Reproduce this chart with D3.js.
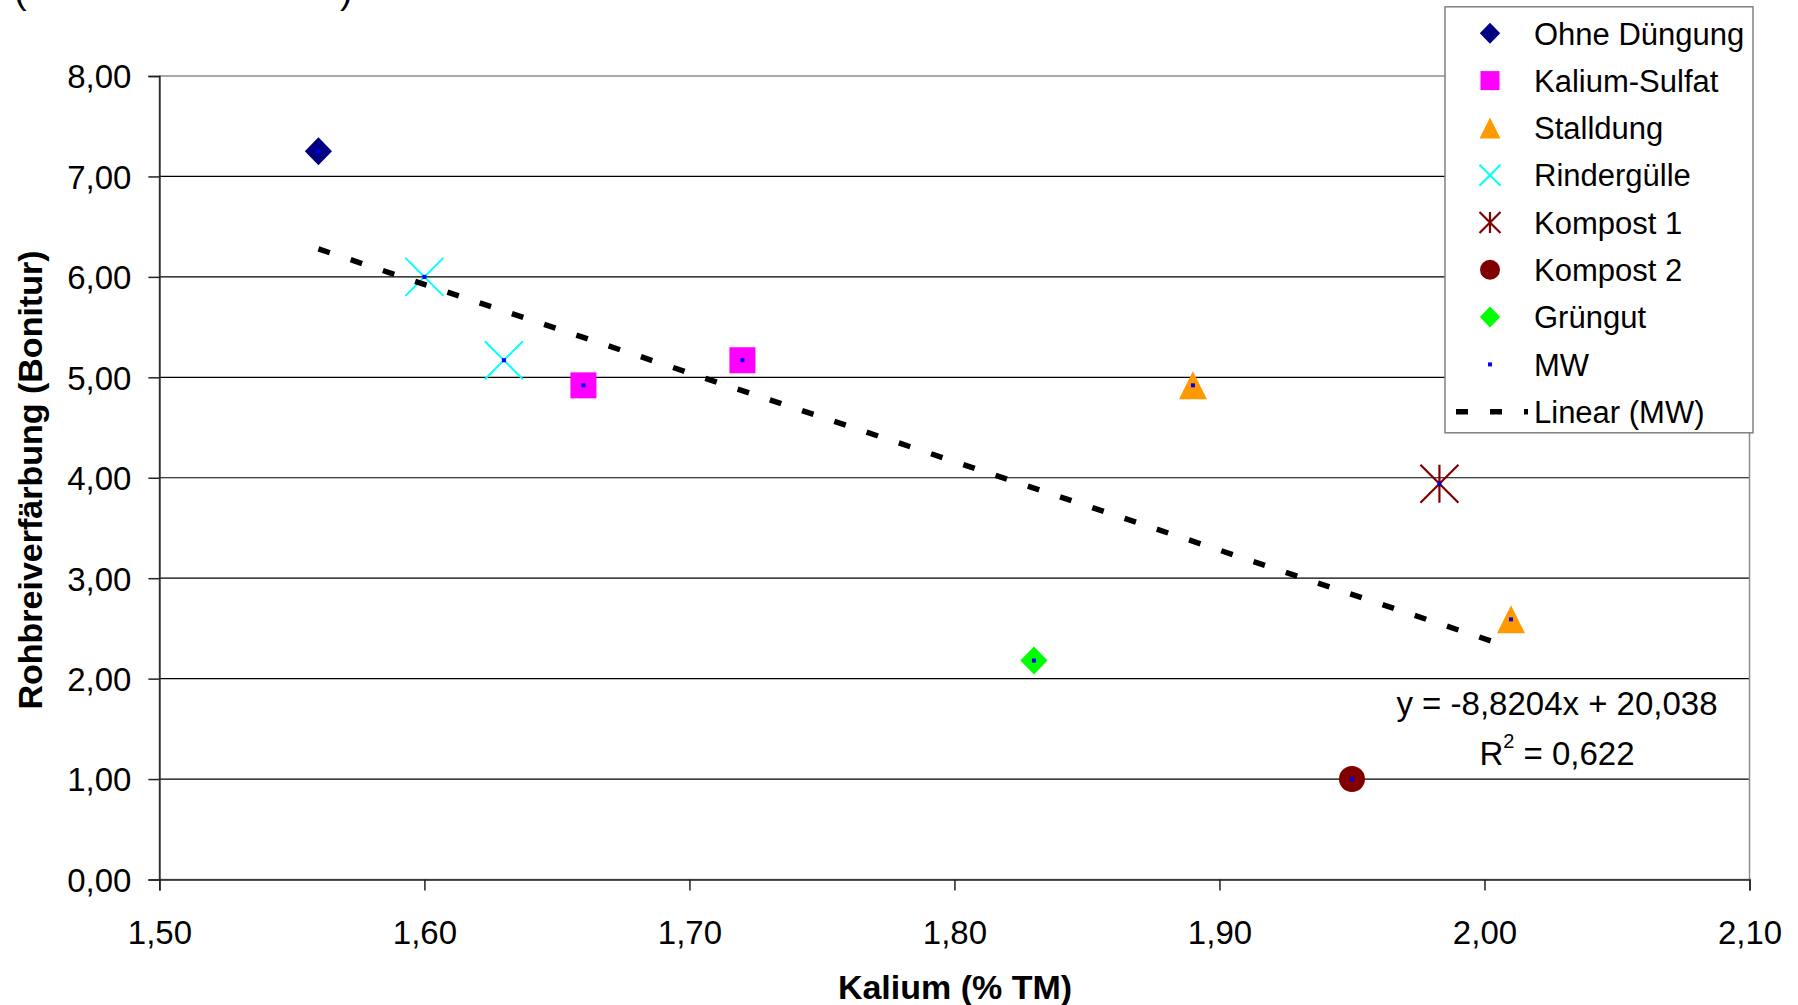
<!DOCTYPE html>
<html>
<head>
<meta charset="utf-8">
<script src="https://cdn.jsdelivr.net/npm/d3@7/dist/d3.min.js"></script>
<style>
  html, body { margin: 0; padding: 0; background: #fff; }
  svg { display: block; }
  text { font-family: "Liberation Sans", Arial, sans-serif; }
</style>
</head>
<body>
<svg id="chart" width="1798" height="1005"></svg>
<script>
// ---------- DATA ----------
const seriesNames = ["Ohne Düngung", "Kalium-Sulfat", "Stalldung", "Rindergülle", "Kompost 1", "Kompost 2", "Grüngut"];
const ohneDuengung = [[1.56, 7.25]];
const kaliumSulfat = [[1.66, 4.92], [1.72, 5.17]];
const stalldung    = [[1.89, 4.92], [2.01, 2.59]];
const rindergulle  = [[1.60, 6.00], [1.63, 5.17]];
const kompost1     = [[1.983, 3.94]];
const kompost2     = [[1.95, 1.00]];
const gruengut     = [[1.83, 2.18]];
const trendSlope = -8.8204;
const trendIntercept = 20.038;
const trendR2 = "0,622";
const xTicks = [1.50, 1.60, 1.70, 1.80, 1.90, 2.00, 2.10];
const yTicks = [0, 1, 2, 3, 4, 5, 6, 7, 8];
const xTitle = "Kalium (% TM)";
const yTitle = "Rohbreiverfärbung (Bonitur)";

// ---------- SETUP ----------
const svg = d3.select("#chart");
const pLeft = 159.4, pRight = 1749.5, pTop = 76, pBottom = 879.5;
const x = d3.scaleLinear().domain([1.5, 2.1]).range([pLeft, pRight]);
const y = d3.scaleLinear().domain([0, 8]).range([pBottom, pTop]);
const loc = d3.formatLocale({decimal: ",", thousands: ".", grouping: [3], currency: ["", "€"]});
const fmt = loc.format(".2f");

// cut-off title parentheses at the top
svg.append("text").attr("x", 14).attr("y", 3).attr("font-size", 38).text("(");
svg.append("text").attr("x", 340).attr("y", 3).attr("font-size", 38).text(")");

// gridlines
svg.append("g").selectAll("line").data(yTicks.filter(d => d > 0 && d < 8)).join("line")
  .attr("x1", pLeft).attr("x2", pRight)
  .attr("y1", d => y(d)).attr("y2", d => y(d))
  .attr("stroke", "#000").attr("stroke-width", 1.2);

// plot border
svg.append("rect").attr("x", pLeft).attr("y", pTop)
  .attr("width", pRight - pLeft).attr("height", pBottom - pTop)
  .attr("fill", "none").attr("stroke", "#8c8c8c").attr("stroke-width", 1.5);

// axes
const yAxis = svg.append("g").attr("transform", `translate(${pLeft},0)`)
  .call(d3.axisLeft(y).tickValues(yTicks).tickFormat(fmt).tickSize(11).tickPadding(17));
const xAxis = svg.append("g").attr("transform", `translate(0,${pBottom})`)
  .call(d3.axisBottom(x).tickValues(xTicks).tickFormat(fmt).tickSize(11).tickPadding(30));
[yAxis, xAxis].forEach(g => {
  g.select(".domain").attr("stroke", "#222").attr("stroke-width", 1.5);
  g.selectAll(".tick line").attr("stroke", "#222").attr("stroke-width", 1.5);
  g.selectAll(".tick text").attr("fill", "#000").attr("font-size", 33)
    .attr("font-family", "'Liberation Sans', Arial, sans-serif");
});
yAxis.selectAll(".tick text").attr("dy", "0.36em");
xAxis.selectAll(".tick text").attr("dy", "0.71em");

// axis titles
svg.append("text").attr("x", 955).attr("y", 999).attr("text-anchor", "middle")
  .attr("font-size", 34).attr("font-weight", "bold").text(xTitle);
svg.append("text").attr("transform", "translate(42,480) rotate(-90)").attr("text-anchor", "middle")
  .attr("font-size", 34).attr("font-weight", "bold").text(yTitle);

// ---------- MARKERS ----------
function drawMarker(g, type, cx, cy, s, color) {
  const h = s / 2;
  switch (type) {
    case "diamond":
      g.append("path").attr("d", `M${cx},${cy - h}L${cx + h * 0.97},${cy}L${cx},${cy + h}L${cx - h * 0.97},${cy}Z`)
        .attr("fill", color); break;
    case "square":
      g.append("rect").attr("x", cx - h).attr("y", cy - h).attr("width", s).attr("height", s)
        .attr("fill", color); break;
    case "triangle":
      g.append("path").attr("d", `M${cx},${cy - h}L${cx + h},${cy + h}L${cx - h},${cy + h}Z`)
        .attr("fill", color); break;
    case "x":
      g.append("path").attr("d", `M${cx - h},${cy - h}L${cx + h},${cy + h}M${cx + h},${cy - h}L${cx - h},${cy + h}`)
        .attr("stroke", color).attr("stroke-width", 2).attr("fill", "none"); break;
    case "star":
      g.append("path").attr("d", `M${cx - h},${cy - h}L${cx + h},${cy + h}M${cx + h},${cy - h}L${cx - h},${cy + h}M${cx},${cy - h}L${cx},${cy + h}`)
        .attr("stroke", color).attr("stroke-width", 2.2).attr("fill", "none"); break;
    case "circle":
      g.append("circle").attr("cx", cx).attr("cy", cy).attr("r", h).attr("fill", color); break;
    case "dot":
      g.append("rect").attr("x", cx - 2).attr("y", cy - 2).attr("width", 4).attr("height", 4)
        .attr("fill", color); break;
  }
}

const series = [
  {name: seriesNames[0], data: ohneDuengung, type: "diamond",  color: "#000080", size: 28, lsize: 21},
  {name: seriesNames[1], data: kaliumSulfat, type: "square",   color: "#FF00FF", size: 26, lsize: 19},
  {name: seriesNames[2], data: stalldung,    type: "triangle", color: "#FF9900", size: 28, lsize: 21},
  {name: seriesNames[3], data: rindergulle,  type: "x",        color: "#00FFFF", size: 38, lsize: 21},
  {name: seriesNames[4], data: kompost1,     type: "star",     color: "#800000", size: 38, lsize: 21},
  {name: seriesNames[5], data: kompost2,     type: "circle",   color: "#800000", size: 26, lsize: 20},
  {name: seriesNames[6], data: gruengut,     type: "diamond",  color: "#00FF00", size: 28, lsize: 21}
];
// MW series: all points combined
const mw = [].concat(...series.map(s => s.data));

const marks = svg.append("g");
series.forEach(s => {
  const g = marks.append("g");
  s.data.forEach(d => drawMarker(g, s.type, x(d[0]), y(d[1]), s.size, s.color));
});

// trendline
const xs = mw.map(d => d[0]);
const tx = [d3.min(xs), d3.max(xs)];
svg.append("line")
  .attr("x1", x(tx[0])).attr("y1", y(trendSlope * tx[0] + trendIntercept))
  .attr("x2", x(tx[1])).attr("y2", y(trendSlope * tx[1] + trendIntercept))
  .attr("stroke", "#000").attr("stroke-width", 5.5).attr("stroke-dasharray", "12,22");

// MW dots on top
const mwg = svg.append("g");
mw.forEach(d => drawMarker(mwg, "dot", x(d[0]), y(d[1]), 4, "#0000FF"));

// equation text
svg.append("text").attr("x", 1557).attr("y", 715).attr("text-anchor", "middle").attr("font-size", 33)
  .text(`y = ${loc.format(".4f")(trendSlope).replace("−", "-")}x + ${loc.format(".3f")(trendIntercept)}`);
const r2 = svg.append("text").attr("x", 1557).attr("y", 765).attr("text-anchor", "middle").attr("font-size", 33);
r2.append("tspan").text("R");
r2.append("tspan").attr("font-size", 20).attr("dy", -17).text("2");
r2.append("tspan").attr("dy", 17).text(" = " + trendR2);

// ---------- LEGEND ----------
const lg = svg.append("g");
lg.append("rect").attr("x", 1445).attr("y", 6.8).attr("width", 308).attr("height", 426)
  .attr("fill", "#fff").attr("stroke", "#808080").attr("stroke-width", 1.5);
const legendItems = series.map(s => ({name: s.name, type: s.type, color: s.color, size: s.lsize}))
  .concat([{name: "MW", type: "dot", color: "#0000FF", size: 4}, {name: "Linear (MW)", type: "line"}]);
legendItems.forEach((it, i) => {
  const cy = 33.3 + i * 47.3;
  if (it.type === "line") {
    lg.append("line").attr("x1", 1456).attr("x2", 1528).attr("y1", cy).attr("y2", cy)
      .attr("stroke", "#000").attr("stroke-width", 5.5).attr("stroke-dasharray", "12,22");
  } else {
    const g = lg.append("g");
    drawMarker(g, it.type, 1490, cy, it.size, it.color);
  }
  lg.append("text").attr("x", 1534).attr("y", cy + 11.2).attr("font-size", 31).text(it.name);
});
</script>
</body>
</html>
